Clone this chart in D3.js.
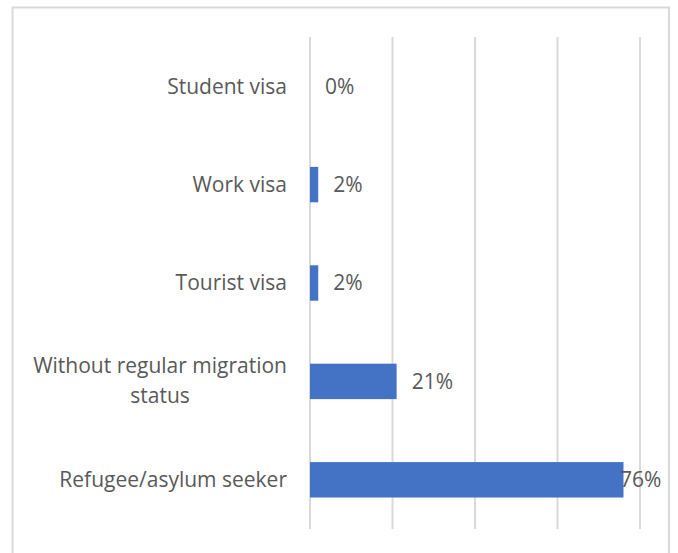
<!DOCTYPE html>
<html><head><meta charset="utf-8">
<script src="https://cdn.jsdelivr.net/npm/d3@7"></script>
<style>body{margin:0;background:#fff}svg{display:block}</style>
</head><body>
<svg id="c" width="678" height="553"></svg>
<script>
const categories = ["Student visa","Work visa","Tourist visa","Without regular migration status","Refugee/asylum seeker"];
const values = [0, 2, 2, 21, 76];
const labels = ["0%","2%","2%","21%","76%"];
const ticks = [0, 20, 40, 60, 80];

(function(){
const svg = d3.select("#c");
const font = "'Open Sans', sans-serif";
const fs = 21;
svg.append("rect").attr("x",12.5).attr("y",7.5).attr("width",656.5).attr("height",560)
  .attr("fill","#fff").attr("stroke","#d9d9d9").attr("stroke-width",2);

const pL = 310, pR = 640, pT = 37, pB = 529;
const x = d3.scaleLinear().domain([0,80]).range([pL,pR]);
const y = d3.scaleBand().domain(categories).range([pT,pB]).paddingInner(0.64).paddingOuter(0.32);

svg.append("g").selectAll("line").data(ticks).join("line")
  .attr("x1",d=>x(d)).attr("x2",d=>x(d)).attr("y1",pT).attr("y2",pB)
  .attr("stroke","#d9d9d9").attr("stroke-width",2);

svg.append("g").selectAll("rect").data(values).join("rect")
  .attr("x",x(0)).attr("y",(d,i)=>y(categories[i]))
  .attr("width",d=>x(d)-x(0)).attr("height",y.bandwidth())
  .attr("fill","#4472C4");

svg.append("g").selectAll("text").data(values).join("text")
  .attr("x",d=>Math.min(x(d)+15, 620))
  .attr("y",(d,i)=>y(categories[i])+y.bandwidth()/2)
  .attr("dy","0.35em").attr("font-family",font).attr("font-size",fs).attr("fill","#595959")
  .text((d,i)=>labels[i]);

const lab = svg.append("g").selectAll("text").data(categories).join("text")
  .attr("text-anchor","end").attr("font-family",font).attr("font-size",fs).attr("fill","#595959")
  .attr("x",287).attr("y",d=>y(d)+y.bandwidth()/2);
lab.each(function(d){
  const t = d3.select(this);
  if (d.startsWith("Without")) {
    const t1 = t.append("tspan").attr("x",287).attr("dy","-0.4em").text("Without regular migration");
    const w = t1.node().getComputedTextLength();
    t.append("tspan").attr("x",287 - w/2).attr("text-anchor","middle").attr("dy","1.45em").text("status");
  } else {
    t.attr("dy","0.35em").text(d);
  }
});
})();
</script>
</body></html>
